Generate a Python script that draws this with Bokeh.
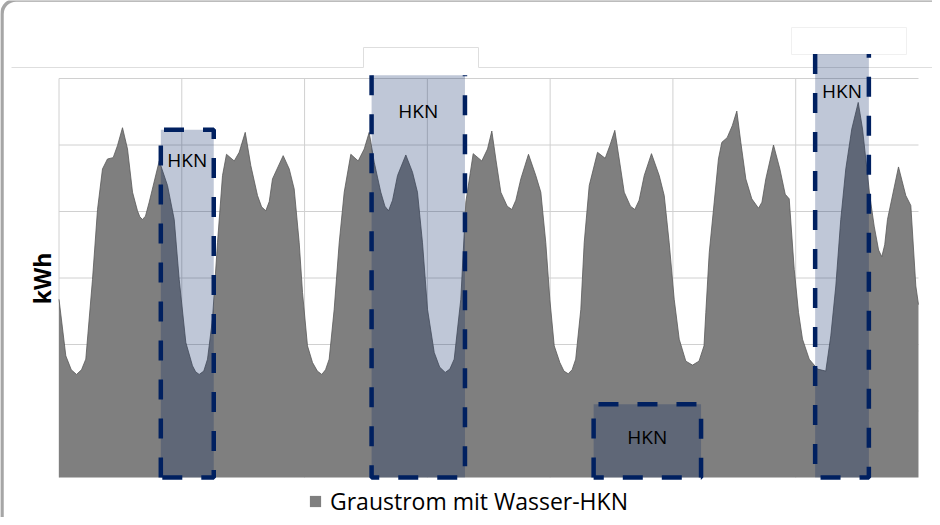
import math
from bokeh.plotting import figure
from bokeh.models import Range1d, Legend, LegendItem
from bokeh.core.properties import value
from bokeh.embed import file_html
from bokeh.resources import INLINE

# ---------------- data ----------------
HOURS = [0.0, 1.33, 2.40, 3.42, 4.40, 5.24, 6.55, 7.53, 8.50, 9.48, 10.59, 11.43, 12.41, 13.39,
         14.37, 15.34, 15.80, 16.32, 16.90, 17.63, 19.59, 21.21, 22.52, 23.49, 24.79, 26.09, 26.70,
         27.40, 28.30, 29.03, 30.00, 30.98, 31.96, 32.74, 34.25, 35.22, 36.40, 37.49, 38.80, 39.60,
         40.42, 41.10, 41.73, 43.82, 45.00, 45.97, 46.95, 47.60, 48.57, 49.55, 50.50, 51.37, 52.10,
         52.81, 53.79, 54.77, 55.75, 57.04, 58.48, 59.66, 60.63, 61.61, 62.90, 63.70, 64.41, 65.20,
         66.17, 67.79, 69.10, 70.07, 71.05, 72.03, 73.34, 74.40, 75.49, 76.40, 77.25, 78.54, 79.52,
         80.96, 82.64, 83.76, 84.60, 85.38, 86.36, 87.60, 88.51, 89.30, 90.27, 91.77, 93.20, 94.18,
         95.15, 95.94, 96.80, 97.89, 98.70, 99.53, 100.30, 101.00, 102.00, 102.66, 103.64, 105.26,
         106.76, 107.67, 108.64, 109.50, 110.48, 111.70, 112.55, 113.40, 114.39, 115.81, 117.32,
         118.30, 119.27, 120.25, 121.23, 122.52, 123.83, 125.10, 126.08, 126.43, 127.10, 128.07,
         128.90, 129.56, 130.60, 131.60, 132.49, 133.27, 134.25, 135.42, 136.73, 137.40, 138.16,
         139.66, 140.90, 141.95, 142.73, 143.71, 144.55, 145.33, 146.64, 148.26, 149.88, 150.86,
         151.84, 152.81, 153.79, 154.96, 156.22, 157.06, 157.70, 158.48, 159.34, 160.20, 160.83,
         161.40, 161.94, 164.09, 165.52, 166.50, 167.48, 168.00]
KWH = [2.68, 1.83, 1.62, 1.55, 1.62, 1.78, 2.98, 4.03, 4.64, 4.79, 4.81, 4.99, 5.26, 4.94,
       4.29, 4.01, 3.92, 3.88, 3.93, 4.14, 4.76, 4.39, 3.88, 2.98, 2.03, 1.68, 1.59,
       1.55, 1.60, 1.78, 2.38, 3.53, 4.54, 4.86, 4.76, 4.89, 5.19, 4.69, 4.24, 4.07,
       4.01, 4.15, 4.49, 4.84, 4.64, 4.34, 3.53, 2.78, 1.98, 1.73, 1.60, 1.55, 1.62,
       1.78, 2.53, 3.53, 4.29, 4.86, 4.76, 4.94, 5.19, 4.74, 4.29, 4.08, 4.01, 4.17,
       4.54, 4.85, 4.59, 4.29, 3.53, 2.53, 1.88, 1.66, 1.58, 1.63, 1.78, 2.68, 4.14,
       4.87, 4.76, 4.94, 5.21, 4.79, 4.29, 4.08, 4.03, 4.17, 4.49, 4.86, 4.54, 4.29,
       3.53, 2.68, 1.98, 1.73, 1.60, 1.56, 1.62, 1.78, 2.53, 3.53, 4.39, 4.89,
       4.80, 4.99, 5.22, 4.79, 4.29, 4.08, 4.03, 4.17, 4.54, 4.87, 4.54,
       4.24, 3.53, 2.68, 2.08, 1.75, 1.69, 1.75, 1.98, 2.48, 3.38, 4.14,
       4.79, 5.04, 5.11, 5.29, 5.51, 5.04, 4.49, 4.19, 4.05, 4.14, 4.49,
       5.00, 4.64, 4.26, 4.19, 3.13, 2.48, 2.08, 1.78, 1.63, 1.60, 2.13,
       2.88, 3.88, 4.64, 5.24, 5.64, 5.24, 4.79, 4.24, 3.78, 3.42, 3.32,
       3.50, 3.88, 4.67, 4.24, 4.09, 2.88, 2.60]

SERIES_NAME = "Graustrom mit Wasser-HKN"
Y_LABEL = "kWh"
HKN_LABEL = "HKN"
HKN_START = [19.9, 61.1, 104.5, 147.8]
HKN_END = [30.25, 79.35, 125.5, 158.3]
HKN_TOP = [5.23, 6.05, 1.10, 6.37]
HKN_TOP_EDGE = [True, False, True, False]
DAY_TICKS = [0, 24, 48, 72, 96, 120, 144]
VALUE_TICKS = [1, 2, 3, 4, 5, 6]
X_END = 168

# ---------------- layout ----------------
W, H = 932, 517
MARGIN = 8
PX_X0 = 66.5      # page px of hour 0
PX_PER_H = 5.116
PX_Y0 = 485.0     # page px of 0 kWh
PX_PER_KWH = 66.5
LABEL_OFFSET_PX = [30, 36, 33, 37]

def hx(px):
    return (px - PX_X0) / PX_PER_H

def vy(py):
    return (PX_Y0 - py) / PX_PER_KWH

NAVY = "#002060"
FONT = "Open Sans"

p = figure(width=W, height=H, output_backend="svg", toolbar_location=None,
           x_range=Range1d(hx(MARGIN), hx(MARGIN + W)),
           y_range=Range1d(vy(MARGIN + H), vy(MARGIN)),
           x_axis_location=None, y_axis_location=None, min_border=0)
p.outline_line_color = None
p.grid.visible = False
p.background_fill_color = "white"
p.border_fill_color = "white"

# outer rounded frame
p.quad(left=[hx(9.5)], right=[hx(1300)], top=[vy(7.5)], bottom=[vy(900)],
       fill_color=None, line_color="#a6a6a6", line_width=3.5, border_radius=14)

# faint decorative lines at the top
p.multi_line(xs=[[hx(19), hx(371), hx(371), hx(486), hx(486), hx(940)],
                 [hx(799), hx(799), hx(914), hx(914), hx(799)]],
             ys=[[vy(75), vy(75), vy(55), vy(55), vy(75), vy(75)],
                 [vy(62), vy(35), vy(35), vy(62), vy(62)]],
             line_color=["#dedede", "#f0f0f0"], line_width=1)

# gridlines
p.segment(x0=DAY_TICKS, y0=[0] * len(DAY_TICKS), x1=DAY_TICKS, y1=[max(VALUE_TICKS)] * len(DAY_TICKS),
          line_color="#d0d0d0", line_width=1)
p.segment(x0=[0] * len(VALUE_TICKS), y0=VALUE_TICKS, x1=[X_END] * len(VALUE_TICKS), y1=VALUE_TICKS,
          line_color="#d0d0d0", line_width=1)

# area
area = p.varea(x=HOURS, y1=[0] * len(HOURS), y2=KWH, fill_color="#7f7f7f")
p.line(HOURS, KWH, line_color="#595959", line_width=0.8, line_join="round")

# HKN boxes
p.quad(left=HKN_START, right=HKN_END, bottom=[0] * 4, top=HKN_TOP,
       fill_color=NAVY, fill_alpha=0.25, line_color=None)
xs, ys = [], []
for l, r, t, closed in zip(HKN_START, HKN_END, HKN_TOP, HKN_TOP_EDGE):
    if closed:
        xs.append([l, l, r, r, l]); ys.append([0, t, t, 0, 0])
    else:
        xs.append([l, l, r, r]); ys.append([t, 0, 0, t])
p.multi_line(xs=xs, ys=ys, line_color=NAVY, line_width=4.5, line_dash="20 19")

cx = [(l + r) / 2 for l, r in zip(HKN_START, HKN_END)]
cy = [t - o / PX_PER_KWH for t, o in zip(HKN_TOP, LABEL_OFFSET_PX)]
p.text(x=cx, y=cy, text=[HKN_LABEL] * 4, text_font=value(FONT), text_font_size="19px",
       text_align="center", text_baseline="middle", text_color="#000000")

# y label
p.text(x=[hx(49)], y=[vy(286)], text=[Y_LABEL], angle=math.pi / 2, text_font=value(FONT),
       text_font_size="23px", text_font_style="bold", text_align="center",
       text_baseline="middle", text_color="#000000")

legend = Legend(items=[LegendItem(label=SERIES_NAME, renderers=[area])],
                location=(308, 0), orientation="horizontal",
                border_line_color=None, background_fill_alpha=0,
                padding=0, margin=0, spacing=0,
                glyph_width=14, glyph_height=14, label_standoff=8,
                label_text_font=FONT, label_text_font_size="23px", label_text_color="#000000")
p.add_layout(legend)

open("out.html", "w").write(file_html(p, INLINE))
